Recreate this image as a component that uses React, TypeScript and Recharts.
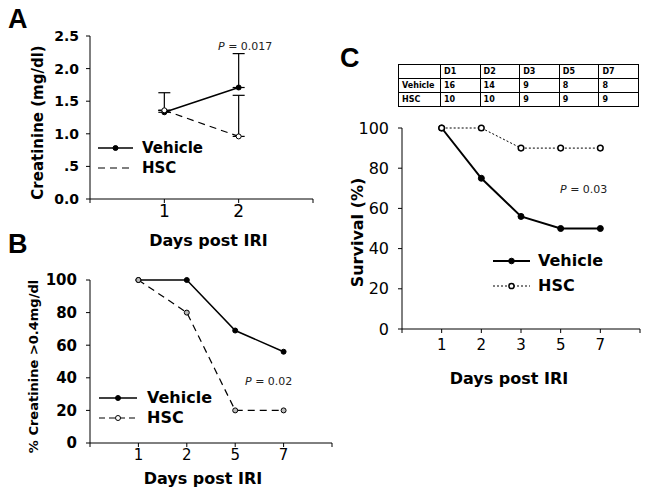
import { LineChart, Line, XAxis, YAxis, ErrorBar, Legend } from 'recharts';

// panel A – creatinine
const daysA = ['1', '2'];
const vehicleA = [1.33, 1.71];
const vehicleErrA = [0.3, 0.52];
const hscA = [1.36, 0.96];
const hscErrA = [0, 0.63];
const yTicksA = [0, 0.5, 1, 1.5, 2, 2.5];
const yLabelsA = ['0.0', '.5', '1.0', '1.5', '2.0', '2.5'];

// panel B – % creatinine > 0.4
const daysB = ['1', '2', '5', '7'];
const vehicleB = [100, 100, 69, 56];
const hscB = [100, 80, 20, 20];

// panel C – survival
const daysC = ['1', '2', '3', '5', '7'];
const vehicleC = [100, 75, 56, 50, 50];
const hscC = [100, 100, 90, 90, 90];
const pctTicks = [0, 20, 40, 60, 80, 100];

// numbers at risk
const tableDays = ['D1', 'D2', 'D3', 'D5', 'D7'];
const vehicleN = [16, 14, 9, 8, 8];
const hscN = [10, 10, 9, 9, 9];

const FONT = "'DejaVu Sans', Verdana, sans-serif";
const BLACK = '#000';

const dataA = daysA.map((d, i) => ({
  pos: i + 1,
  vehicle: vehicleA[i],
  vehicleErr: [0, vehicleErrA[i]],
  hsc: hscA[i],
  hscErr: [0, hscErrA[i]],
}));
const dataB = daysB.map((d, i) => ({ pos: i + 1, vehicle: vehicleB[i], hsc: hscB[i] }));
const dataC = daysC.map((d, i) => ({ pos: i + 1, vehicle: vehicleC[i], hsc: hscC[i] }));

const posTicks = (days: string[]) => [0, ...days.map((_, i) => i + 1), days.length + 1];
const dayLabel = (days: string[]) => (v: number) => days[v - 1] ?? '';

type KeyItem = { name: string; dash?: string; sw: number; r: number; fill?: string; sr?: number };

function KeyBox({ items, fontSize, rowH, lineW, gap }: { items: KeyItem[]; fontSize: number; rowH: number; lineW: number; gap: number }) {
  return (
    <div>
      {items.map((s) => (
        <div key={s.name} style={{ display: 'flex', alignItems: 'center', height: rowH }}>
          <svg width={lineW} height={10} style={{ display: 'block' }}>
            <line x1={0} x2={lineW} y1={5} y2={5} stroke={BLACK} strokeWidth={s.sw} strokeDasharray={s.dash} />
            {s.r > 0 && <circle cx={lineW / 2} cy={5} r={s.r} fill={s.fill ?? BLACK} stroke={BLACK} strokeWidth={s.sr ?? 1} />}
          </svg>
          <span style={{ marginLeft: gap, fontWeight: 700, fontSize, lineHeight: 1, fontFamily: FONT }}>{s.name}</span>
        </div>
      ))}
    </div>
  );
}

const xTitle = (dx: number, dy: number, size: number) => (props: any) => {
  const vb = props.viewBox;
  return (
    <text x={vb.x + vb.width / 2 + dx} y={vb.y + dy} textAnchor="middle" dominantBaseline="central"
      fontWeight={700} fontSize={size} fill={BLACK}>
      Days post IRI
    </text>
  );
};

const yTitle = (text: string, cx: number, dy: number, size: number) => (props: any) => {
  const vb = props.viewBox;
  const x = vb.x + cx;
  const y = vb.y + vb.height / 2 + dy;
  return (
    <text x={x} y={y} transform={`rotate(-90 ${x} ${y})`} textAnchor="middle" dominantBaseline="central"
      fontWeight={700} fontSize={size} fill={BLACK}>
      {text}
    </text>
  );
};

const letter: React.CSSProperties = {
  position: 'absolute', fontFamily: "'Liberation Sans', Arial, sans-serif", fontWeight: 700, fontSize: 27, lineHeight: 1,
};
const pval: React.CSSProperties = { position: 'absolute', fontSize: 11, color: '#222', lineHeight: 1, whiteSpace: 'nowrap' };
const cell: React.CSSProperties = { border: '1px solid #000', fontSize: 8, fontWeight: 700, padding: '0 3px', height: 13, textAlign: 'left' };

export default function App() {
  return (
    <div style={{ position: 'absolute', left: 0, top: 0, width: 650, height: 495, background: '#fff', fontFamily: FONT, color: BLACK }}>
      <div style={{ ...letter, left: 8, top: 6 }}>A</div>
      <div style={{ ...letter, left: 8, top: 231 }}>B</div>
      <div style={{ ...letter, left: 340, top: 45 }}>C</div>

      <div style={{ position: 'absolute', left: 0, top: 0 }}>
        <LineChart width={330} height={255} data={dataA} margin={{ top: 36, right: 17, left: 0, bottom: 0 }}>
          <XAxis dataKey="pos" type="number" domain={[0, 3]} ticks={posTicks(daysA)} tickFormatter={dayLabel(daysA)}
            height={56} tickSize={4} tickMargin={2} axisLine={{ stroke: BLACK }} tickLine={{ stroke: BLACK }}
            tick={{ fontSize: 17, fill: BLACK }} label={xTitle(7, 41, 16)} />
          <YAxis type="number" domain={[0, 2.5]} ticks={yTicksA} tickFormatter={(v) => yLabelsA[yTicksA.indexOf(v)]}
            width={90} tickSize={4} tickMargin={7} axisLine={{ stroke: BLACK }} tickLine={{ stroke: BLACK }}
            tick={{ fontSize: 14, fontWeight: 700, fill: BLACK }} label={yTitle('Creatinine (mg/dl)', 38, 5, 15)} />
          <Line dataKey="vehicle" name="Vehicle" stroke={BLACK} strokeWidth={1.5} isAnimationActive={false}
            dot={{ r: 2.5, fill: BLACK, stroke: BLACK, strokeWidth: 1 }}>
            <ErrorBar dataKey="vehicleErr" direction="y" width={6} stroke={BLACK} strokeWidth={1.2} />
          </Line>
          <Line dataKey="hsc" name="HSC" stroke={BLACK} strokeWidth={1.2} strokeDasharray="7 5" isAnimationActive={false}
            dot={{ r: 2.5, fill: '#fff', stroke: BLACK, strokeWidth: 1, strokeDasharray: '' }}>
            <ErrorBar dataKey="hscErr" direction="y" width={6} stroke={BLACK} strokeWidth={1.2} />
          </Line>
          <Legend layout="vertical" align="center" verticalAlign="middle" wrapperStyle={{ left: 98, top: 138, width: 'auto' }}
            content={() => (
              <KeyBox fontSize={15} rowH={20} lineW={35} gap={9} items={[
                { name: 'Vehicle', sw: 1.5, r: 2.5 },
                { name: 'HSC', sw: 1.2, r: 0, dash: '7 5' },
              ]} />
            )} />
        </LineChart>
      </div>
      <span style={{ ...pval, left: 218, top: 41 }}><i>P</i> = 0.017</span>

      <div style={{ position: 'absolute', left: 0, top: 250 }}>
        <LineChart width={340} height={245} data={dataB} margin={{ top: 30, right: 8, left: 0, bottom: 0 }}>
          <XAxis dataKey="pos" type="number" domain={[0, 5]} ticks={posTicks(daysB)} tickFormatter={dayLabel(daysB)}
            height={52} tickSize={4} tickMargin={2} axisLine={{ stroke: BLACK }} tickLine={{ stroke: BLACK }}
            tick={{ fontSize: 15, fill: BLACK }} label={xTitle(-8, 35, 16)} />
          <YAxis type="number" domain={[0, 100]} ticks={pctTicks}
            width={90} tickSize={4} tickMargin={9} axisLine={{ stroke: BLACK }} tickLine={{ stroke: BLACK }}
            tick={{ fontSize: 15, fontWeight: 700, fill: BLACK }} label={yTitle('% Creatinine >0.4mg/dl', 33, 5, 13)} />
          <Line dataKey="vehicle" name="Vehicle" stroke={BLACK} strokeWidth={1.5} isAnimationActive={false}
            dot={{ r: 2.5, fill: BLACK, stroke: BLACK, strokeWidth: 1 }} />
          <Line dataKey="hsc" name="HSC" stroke={BLACK} strokeWidth={1.2} strokeDasharray="7 5" isAnimationActive={false}
            dot={{ r: 2.5, fill: '#bbb', stroke: BLACK, strokeWidth: 1, strokeDasharray: '' }} />
          <Legend layout="vertical" align="center" verticalAlign="middle" wrapperStyle={{ left: 99, top: 138, width: 'auto' }}
            content={() => (
              <KeyBox fontSize={16} rowH={20} lineW={38} gap={10} items={[
                { name: 'Vehicle', sw: 1.5, r: 2.5 },
                { name: 'HSC', sw: 1.2, r: 2.5, dash: '6 4', fill: '#fff' },
              ]} />
            )} />
        </LineChart>
      </div>
      <span style={{ ...pval, left: 245, top: 376 }}><i>P</i> = 0.02</span>

      <table style={{ position: 'absolute', left: 398, top: 64, width: 241, borderCollapse: 'collapse', tableLayout: 'fixed' }}>
        <tbody>
          <tr>
            <td style={{ ...cell, width: 35 }}></td>
            {tableDays.map((d) => <td key={d} style={cell}>{d}</td>)}
          </tr>
          <tr>
            <td style={cell}>Vehicle</td>
            {vehicleN.map((n, i) => <td key={i} style={cell}>{n}</td>)}
          </tr>
          <tr>
            <td style={cell}>HSC</td>
            {hscN.map((n, i) => <td key={i} style={cell}>{n}</td>)}
          </tr>
        </tbody>
      </table>

      <div style={{ position: 'absolute', left: 330, top: 110 }}>
        <LineChart width={320} height={285} data={dataC} margin={{ top: 18, right: 10, left: 0, bottom: 0 }}>
          <XAxis dataKey="pos" type="number" domain={[0, 6]} ticks={posTicks(daysC)} tickFormatter={dayLabel(daysC)}
            height={66} tickSize={4} tickMargin={6} axisLine={{ stroke: BLACK }} tickLine={{ stroke: BLACK }}
            tick={{ fontSize: 15, fill: BLACK }} label={xTitle(-12, 49, 16)} />
          <YAxis type="number" domain={[0, 100]} ticks={pctTicks}
            width={72} tickSize={4} tickMargin={9} axisLine={{ stroke: BLACK }} tickLine={{ stroke: BLACK }}
            tick={{ fontSize: 16, fill: BLACK }} label={yTitle('Survival (%)', 27, 4, 16)} />
          <Line dataKey="vehicle" name="Vehicle" stroke={BLACK} strokeWidth={2} isAnimationActive={false}
            dot={{ r: 3, fill: BLACK, stroke: BLACK, strokeWidth: 1 }} />
          <Line dataKey="hsc" name="HSC" stroke={BLACK} strokeWidth={1} strokeDasharray="2 2" isAnimationActive={false}
            dot={{ r: 2.8, fill: '#fff', stroke: BLACK, strokeWidth: 1.5, strokeDasharray: '' }} />
          <Legend layout="vertical" align="center" verticalAlign="middle" wrapperStyle={{ left: 163, top: 138, width: 'auto' }}
            content={() => (
              <KeyBox fontSize={16} rowH={25} lineW={37} gap={8} items={[
                { name: 'Vehicle', sw: 2, r: 2.8 },
                { name: 'HSC', sw: 1, r: 2.6, dash: '2 2', fill: '#fff', sr: 1.5 },
              ]} />
            )} />
        </LineChart>
      </div>
      <span style={{ ...pval, left: 560, top: 184 }}><i>P</i> = 0.03</span>
    </div>
  );
}
